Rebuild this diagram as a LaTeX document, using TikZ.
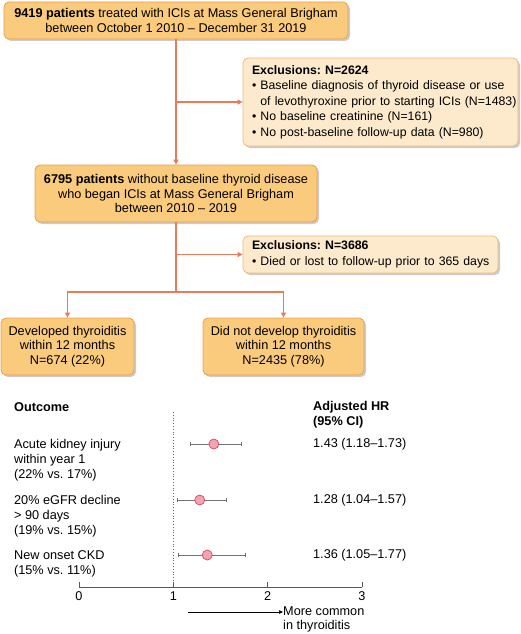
\documentclass[tikz,border=0pt]{standalone}
\usepackage{fontspec}
\setmainfont{Liberation Sans}
\usepackage{tikz}
\usetikzlibrary{positioning,arrows.meta,shadows}
\definecolor{boxfill}{RGB}{250,203,124}
\definecolor{boxedge}{RGB}{232,158,78}
\definecolor{exclfill}{RGB}{253,234,205}
\definecolor{excledge}{RGB}{240,188,118}
\definecolor{flow}{RGB}{233,122,92}
\definecolor{dotfill}{RGB}{245,162,178}
\definecolor{dotedge}{RGB}{212,72,96}
\frenchspacing

\begin{document}
\begin{tikzpicture}[x=1pt,y=-1pt,every node/.style={font=\fontsize{12.7}{14.6}\selectfont},
  mainbox/.style={draw=boxedge,fill=boxfill,line width=0.8pt,rounded corners=5pt,align=center,inner sep=0pt,
    drop shadow={shadow xshift=2pt,shadow yshift=-2pt,fill=black!45,opacity=0.45}},
  exclbox/.style={draw=excledge,fill=exclfill,line width=0.8pt,rounded corners=5pt,align=left,inner xsep=9pt,inner ysep=0pt,
    font=\fontsize{12.3}{15.5}\selectfont,drop shadow={shadow xshift=2pt,shadow yshift=-2pt,fill=black!45,opacity=0.45}},
  flowline/.style={draw=flow,line width=1.1pt,-{Triangle[length=5pt,width=5pt]}},
  lbl/.style={inner sep=0pt,align=left},
  cibar/.style={draw=black!55,line width=0.7pt,{Bar[width=4pt]}-{Bar[width=4pt]}},
  hrdot/.style={circle,draw=dotedge,fill=dotfill,line width=0.7pt,minimum size=10pt,inner sep=0pt}]
  \useasboundingbox (0,0) rectangle (520,634);

  % flow chart
  \node[mainbox,minimum width=344pt,minimum height=37pt] (cohort) at (176,20.5)
    {\textbf{9419 patients} treated with ICIs at Mass General Brigham\\between October 1 2010 -- December 31 2019};
  \node[exclbox,text width=257pt,minimum height=88pt] (excl1) at (380.5,102)
    {\textbf{Exclusions: N=2624}\\
     \mbox{• Baseline diagnosis of thyroid disease or use}\\
     \mbox{\phantom{• }of levothyroxine prior to starting ICIs (N=1483)}\\
     \mbox{• No baseline creatinine (N=161)}\\
     \mbox{• No post-baseline follow-up data (N=980)}};
  \node[mainbox,minimum width=282pt,minimum height=57pt] (cohorttwo) at (176,193.5)
    {\textbf{6795 patients} without baseline thyroid disease\\who began ICIs at Mass General Brigham\\between 2010 -- 2019};
  \node[exclbox,text width=237pt,minimum height=37pt] (excl2) at (370.5,254.5)
    {\textbf{Exclusions: N=3686}\\
     \mbox{• Died or lost to follow-up prior to 365 days}};
  \coordinate (split) at (176,292);
  \node[mainbox,minimum width=133pt,minimum height=57pt] (thyr) at (67.5,346.5)
    {Developed thyroiditis\\within 12 months\\N=674 (22\%)};
  \node[mainbox,minimum width=161pt,minimum height=57pt] (nothyr) at (283.5,346.5)
    {Did not develop thyroiditis\\within 12 months\\N=2435 (78\%)};

  \draw[flowline] (cohort) -- (cohorttwo);
  \draw[flowline] (cohort.south |- excl1.west) -- (excl1.west);
  \draw[flowline,-] (cohorttwo) -- (split);
  \draw[flowline] (cohorttwo.south |- excl2.west) -- (excl2.west);
  \draw[flowline] (split) -| (thyr);
  \draw[flowline] (split) -| (nothyr);

  % forest plot
  \node[lbl,anchor=west] (outhead) at (14,407) {\textbf{Outcome}};
  \node[lbl,anchor=west] (hrhead) at (313,415) {\textbf{Adjusted HR}\\\textbf{(95\% CI)}};
  \begin{scope}[shift={(79,0)},x=94.3pt]
    \draw[black!60,line width=0.8pt,dotted] (1,412) -- (1,587);
    \draw[black!65,line width=0.8pt] (0,587) -- (3,587);
    \foreach \t in {0,1,2,3} {
      \draw[black!65,line width=0.8pt] (\t,587) -- (\t,582);
      \node[inner sep=0pt] (tick\t) at (\t,596) {\t};
    }
    \foreach \yy/\est/\lo/\hi/\lab/\hr [count=\i] in {
      444/1.43/1.18/1.73/{Acute kidney injury\\within year 1\\(22\% vs. 17\%)}/{1.43 (1.18--1.73)},
      500/1.28/1.04/1.57/{20\% eGFR decline\\> 90 days\\(19\% vs. 15\%)}/{1.28 (1.04--1.57)},
      555/1.36/1.05/1.77/{New onset CKD\\(15\% vs. 11\%)}/{1.36 (1.05--1.77)}} {
      \node[lbl,anchor=north west] (out\i) at (-0.69,\yy-4.5) {\lab};
      \node[lbl,anchor=west] (hr\i) at (2.481,\yy) {\hr};
      \draw[cibar] (\lo,\yy) -- (\hi,\yy);
      \node[hrdot] (est\i) at (\est,\yy) {};
    }
  \end{scope}
  \coordinate (arrstart) at (188,612);
  \node[lbl,anchor=west] (morecommon) at (283,619.5) {More common\\in thyroiditis};
  \draw[line width=0.7pt,-{Triangle[length=4pt,width=3.5pt]}] (arrstart) -- (arrstart -| morecommon.west);
\end{tikzpicture}
\end{document}
